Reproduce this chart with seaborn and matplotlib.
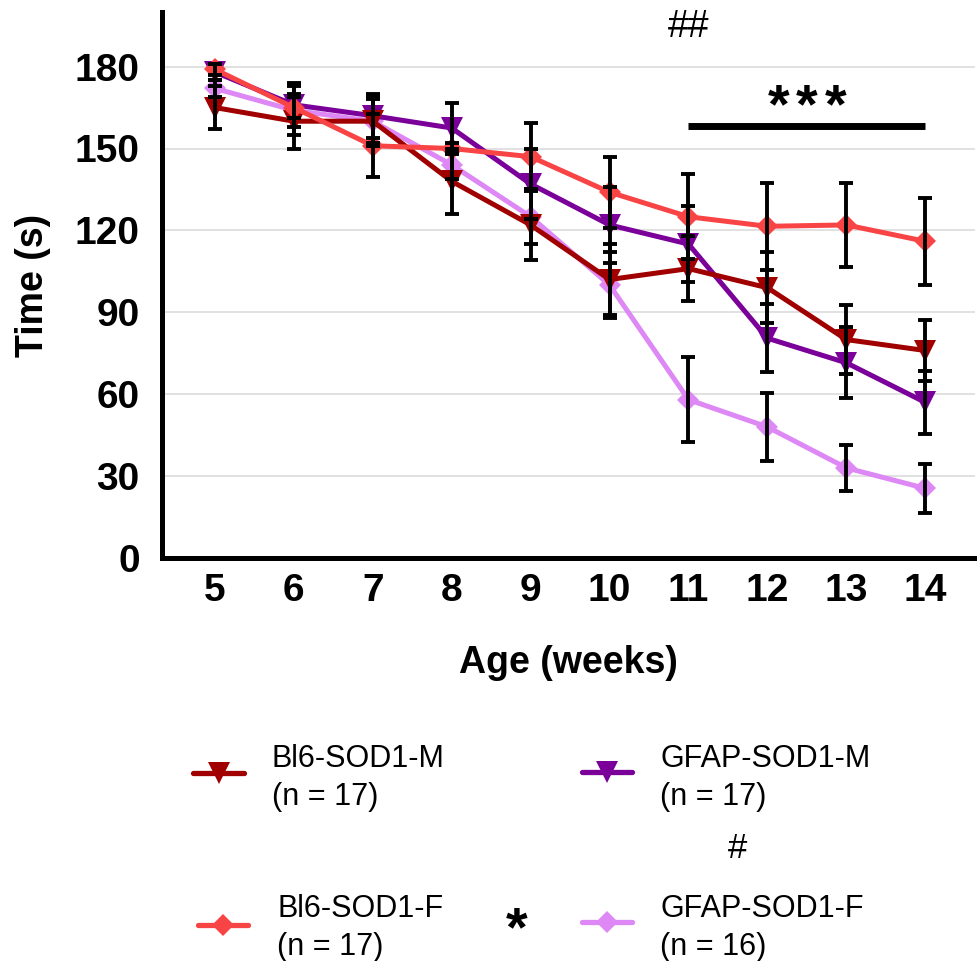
import numpy as np
import pandas as pd
import matplotlib
matplotlib.use("Agg")
import matplotlib.pyplot as plt
import seaborn as sns
from matplotlib.lines import Line2D

weeks = [5, 6, 7, 8, 9, 10, 11, 12, 13, 14]
groups = ["Bl6-SOD1-M", "Bl6-SOD1-F", "GFAP-SOD1-M", "GFAP-SOD1-F"]
group_n = ["(n = 17)", "(n = 17)", "(n = 17)", "(n = 16)"]

bl6_m = [165, 160, 160, 138, 122, 102, 106, 99, 80, 76]
bl6_m_err = [8, 10, 9, 12, 13, 13, 12, 13, 12.5, 11]
bl6_f = [179, 165, 151, 150, 147, 134, 125, 121.5, 122, 116]
bl6_f_err = [2, 4, 11.5, 2, 12.5, 13, 15.5, 16, 15.3, 16]
gfap_m = [178, 166, 162, 157.5, 137, 122, 115, 80.5, 71.5, 57]
gfap_m_err = [3, 8, 8, 9, 13, 14, 14, 12.5, 13, 11.5]
gfap_f = [172, 164, 160, 144, 125, 100, 58, 48, 33, 25.5]
gfap_f_err = [3, 9, 8, 5, 10, 12, 15.6, 12.5, 8.5, 9]

yticks = [0, 30, 60, 90, 120, 150, 180]

colors = {"Bl6-SOD1-M": "#A00000", "Bl6-SOD1-F": "#F84444",
          "GFAP-SOD1-M": "#7A0099", "GFAP-SOD1-F": "#DD88F4"}
markers = {"Bl6-SOD1-M": "v", "Bl6-SOD1-F": "D",
           "GFAP-SOD1-M": "v", "GFAP-SOD1-F": "D"}
msize = {"v": 16, "D": 11.5}

values = {"Bl6-SOD1-M": (bl6_m, bl6_m_err), "Bl6-SOD1-F": (bl6_f, bl6_f_err),
          "GFAP-SOD1-M": (gfap_m, gfap_m_err), "GFAP-SOD1-F": (gfap_f, gfap_f_err)}

sns.set_style("white")
plt.rcParams["font.family"] = ["Liberation Sans", "DejaVu Sans"]
for k in ["text.color", "axes.labelcolor", "xtick.color", "ytick.color"]:
    plt.rcParams[k] = "black"

W, H = 977, 961
fig = plt.figure(figsize=(W / 100, H / 100), dpi=100)
ax = fig.add_axes([162 / W, 1 - 558 / H, (975 - 162) / W, (558 - 12) / H])

draw_order = ["GFAP-SOD1-F", "GFAP-SOD1-M", "Bl6-SOD1-M", "Bl6-SOD1-F"]
for z, g in enumerate(draw_order):
    vals, errs = values[g]
    df = pd.DataFrame({"week": weeks, "time": vals})
    m = markers[g]
    sns.lineplot(data=df, x="week", y="time", color=colors[g], marker=m,
                 markersize=msize[m], markeredgewidth=0, linewidth=3.6,
                 ax=ax, zorder=3 + z, legend=False)

for g in groups:
    vals, errs = values[g]
    ax.errorbar(weeks, vals, yerr=errs, fmt="none", ecolor="black",
                elinewidth=2.8, capsize=5, capthick=2.8, zorder=10)

ax.set_xlim(4.33, 14.63)
ax.set_ylim(0, 200)
ax.set_yticks(yticks)
ax.set_xticks(weeks)
ax.yaxis.grid(True, color="#dcdcdc", linewidth=1.2)
ax.set_axisbelow(True)
for s in ["top", "right"]:
    ax.spines[s].set_visible(False)
for s in ["left", "bottom"]:
    ax.spines[s].set_linewidth(3.6)
    ax.spines[s].set_color("black")
ax.tick_params(axis="y", direction="out", length=12, width=3.6, pad=4,
               labelsize=28)
ax.tick_params(axis="x", direction="in", length=12, width=3.6, pad=11,
               labelsize=28)
for lab in ax.get_xticklabels() + ax.get_yticklabels():
    lab.set_fontweight("bold")
ax.set_xlabel("Age (weeks)", fontsize=27, fontweight="bold", labelpad=26)
ax.set_ylabel("Time (s)", fontsize=27, fontweight="bold", labelpad=17)

# significance annotations
ax.text(11, 191, "##", ha="center", va="baseline", fontsize=27)
for dx in (-0.36, 0.0, 0.36):
    ax.text(12.5 + dx, 159.5, "*", ha="center", va="baseline", fontsize=40,
            fontweight="bold")
ax.plot([11, 14], [158.3, 158.3], color="black", linewidth=5,
        solid_capstyle="butt", clip_on=False)

# legend entries (drawn in figure pixel coordinates)
def fx(x):
    return x / W

def fy(y):
    return 1 - y / H

leg = {
    "Bl6-SOD1-M": dict(line=(193, 244), marker=219, y=773, tx=272, b1=767),
    "GFAP-SOD1-M": dict(line=(582, 632), marker=607, y=772, tx=660, b1=767),
    "Bl6-SOD1-F": dict(line=(198, 248), marker=223, y=925, tx=277, b1=917),
    "GFAP-SOD1-F": dict(line=(582, 632), marker=607, y=922, tx=660, b1=917),
}
for g, n in zip(groups, group_n):
    p = leg[g]
    m = markers[g]
    fig.add_artist(Line2D([fx(p["line"][0]), fx(p["line"][1])],
                          [fy(p["y"]), fy(p["y"])], color=colors[g],
                          linewidth=3.8, transform=fig.transFigure))
    fig.add_artist(Line2D([fx(p["marker"])], [fy(p["y"])], color=colors[g],
                          marker=m, markersize=msize[m],
                          markeredgewidth=0, linestyle="none",
                          transform=fig.transFigure))
    fig.text(fx(p["tx"]), fy(p["b1"]), g, ha="left", va="baseline",
             fontsize=22)
    fig.text(fx(p["tx"]), fy(p["b1"] + 38), n, ha="left", va="baseline",
             fontsize=22)

fig.text(fx(517), fy(945), "*", ha="center", va="baseline", fontsize=40,
         fontweight="bold")
fig.text(fx(738), fy(858), "#", ha="center", va="baseline", fontsize=25)

fig.savefig("out.png", dpi=100)
